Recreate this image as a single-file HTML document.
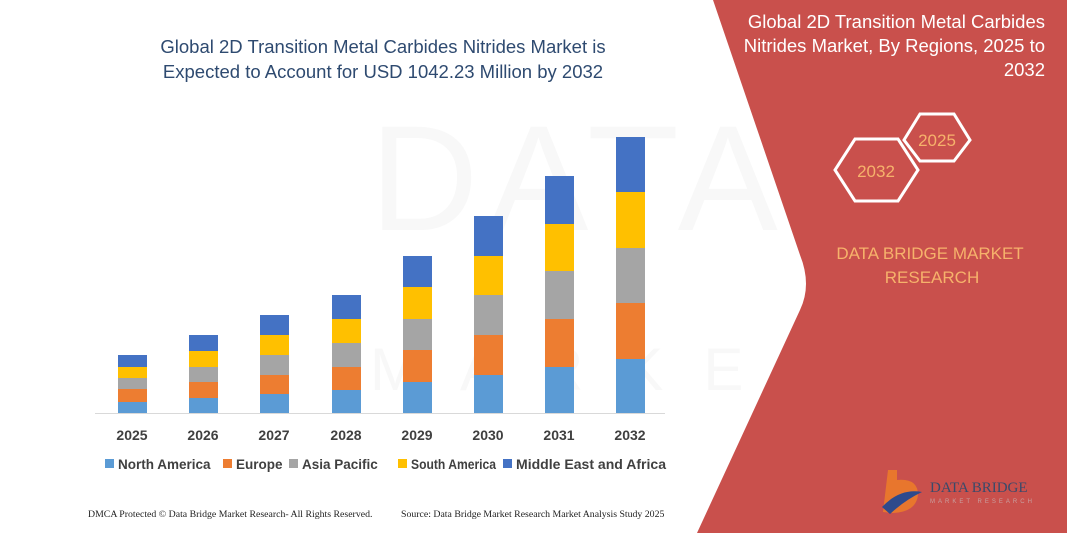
<!DOCTYPE html>
<html><head><meta charset="utf-8"><style>
html,body{margin:0;padding:0;background:#fff;}
svg{display:block;font-family:"Liberation Sans",sans-serif;}
</style></head><body>
<svg width="1067" height="533" viewBox="0 0 1067 533" xmlns="http://www.w3.org/2000/svg">
<rect width="1067" height="533" fill="#fff"/>
<text x="370" y="230" font-size="150" fill="#f8f8f8" letter-spacing="10">DATA BRIDGE</text>
<text x="370" y="390" font-size="60" fill="#f8f8f8" letter-spacing="40">MARKET RESEARCH</text>
<path d="M713,0 L1067,0 L1067,533 L697,533 L800,310 Q812,285 800,255 Z" fill="#c9504c"/>
<text x="383" y="53" font-size="18.5" fill="#2e4a70" text-anchor="middle">Global 2D Transition Metal Carbides Nitrides Market is</text>
<text x="383" y="78" font-size="18.5" fill="#2e4a70" text-anchor="middle">Expected to Account for USD 1042.23 Million by 2032</text>
<g fill="#fff" font-size="18.5" text-anchor="end">
<text x="1045" y="28">Global 2D Transition Metal Carbides</text>
<text x="1045" y="52">Nitrides Market, By Regions, 2025 to</text>
<text x="1045" y="76">2032</text>
</g>
<polygon points="920,114 954,114 970,140 954,161 920,161 904,140" fill="none" stroke="#fff" stroke-width="3"/>
<text x="937" y="146" font-size="17" fill="#f6b26b" text-anchor="middle">2025</text>
<polygon points="855,139 898,139 918,170 898,201 855,201 835,170" fill="none" stroke="#fff" stroke-width="3"/>
<text x="876" y="177" font-size="17" fill="#f6b26b" text-anchor="middle">2032</text>
<text x="930" y="259" font-size="17" fill="#f6b26b" text-anchor="middle">DATA BRIDGE MARKET</text>
<text x="932" y="283" font-size="17" fill="#f6b26b" text-anchor="middle">RESEARCH</text>
<path d="M888,470 L897,470 L897,480 Q918,478 918,495 Q916,512 893,513 L883,512 Z" fill="#e8762d"/>
<path d="M882,507 Q900,488 922,492 Q905,500 890,514 Z" fill="#2e4a8c"/>
<text x="930" y="492" font-size="15" fill="#3a4a6a" font-family="Liberation Serif">DATA BRIDGE</text>
<text x="930" y="503" font-size="6" fill="#c9a0a0" letter-spacing="3">MARKET RESEARCH</text>
<line x1="95" y1="413.5" x2="665" y2="413.5" stroke="#d9d9d9" stroke-width="1"/>
<g>
<rect x="118" y="355" width="29" height="12" fill="#4472c4"/><rect x="118" y="367" width="29" height="11" fill="#ffc000"/><rect x="118" y="378" width="29" height="11" fill="#a5a5a5"/><rect x="118" y="389" width="29" height="13" fill="#ed7d31"/><rect x="118" y="402" width="29" height="11" fill="#5b9bd5"/>
<rect x="189" y="335" width="29" height="16" fill="#4472c4"/><rect x="189" y="351" width="29" height="16" fill="#ffc000"/><rect x="189" y="367" width="29" height="15" fill="#a5a5a5"/><rect x="189" y="382" width="29" height="16" fill="#ed7d31"/><rect x="189" y="398" width="29" height="15" fill="#5b9bd5"/>
<rect x="260" y="315" width="29" height="20" fill="#4472c4"/><rect x="260" y="335" width="29" height="20" fill="#ffc000"/><rect x="260" y="355" width="29" height="20" fill="#a5a5a5"/><rect x="260" y="375" width="29" height="19" fill="#ed7d31"/><rect x="260" y="394" width="29" height="19" fill="#5b9bd5"/>
<rect x="332" y="295" width="29" height="24" fill="#4472c4"/><rect x="332" y="319" width="29" height="24" fill="#ffc000"/><rect x="332" y="343" width="29" height="24" fill="#a5a5a5"/><rect x="332" y="367" width="29" height="23" fill="#ed7d31"/><rect x="332" y="390" width="29" height="23" fill="#5b9bd5"/>
<rect x="403" y="256" width="29" height="31" fill="#4472c4"/><rect x="403" y="287" width="29" height="32" fill="#ffc000"/><rect x="403" y="319" width="29" height="31" fill="#a5a5a5"/><rect x="403" y="350" width="29" height="32" fill="#ed7d31"/><rect x="403" y="382" width="29" height="31" fill="#5b9bd5"/>
<rect x="474" y="216" width="29" height="40" fill="#4472c4"/><rect x="474" y="256" width="29" height="39" fill="#ffc000"/><rect x="474" y="295" width="29" height="40" fill="#a5a5a5"/><rect x="474" y="335" width="29" height="40" fill="#ed7d31"/><rect x="474" y="375" width="29" height="38" fill="#5b9bd5"/>
<rect x="545" y="176" width="29" height="48" fill="#4472c4"/><rect x="545" y="224" width="29" height="47" fill="#ffc000"/><rect x="545" y="271" width="29" height="48" fill="#a5a5a5"/><rect x="545" y="319" width="29" height="48" fill="#ed7d31"/><rect x="545" y="367" width="29" height="46" fill="#5b9bd5"/>
<rect x="616" y="137" width="29" height="55" fill="#4472c4"/><rect x="616" y="192" width="29" height="56" fill="#ffc000"/><rect x="616" y="248" width="29" height="55" fill="#a5a5a5"/><rect x="616" y="303" width="29" height="56" fill="#ed7d31"/><rect x="616" y="359" width="29" height="54" fill="#5b9bd5"/>
</g>
<g font-size="14" font-weight="bold" fill="#404040" text-anchor="middle">
<text x="132" y="440">2025</text><text x="203" y="440">2026</text><text x="274" y="440">2027</text><text x="346" y="440">2028</text>
<text x="417" y="440">2029</text><text x="488" y="440">2030</text><text x="559" y="440">2031</text><text x="630" y="440">2032</text>
</g>
<g font-size="13.5" font-weight="bold" fill="#404040">
<rect x="105" y="459" width="9" height="9" fill="#5b9bd5"/><text x="118" y="469">North America</text>
<rect x="223" y="459" width="9" height="9" fill="#ed7d31"/><text x="236" y="469">Europe</text>
<rect x="289" y="459" width="9" height="9" fill="#a5a5a5"/><text x="302" y="469">Asia Pacific</text>
<rect x="398" y="459" width="9" height="9" fill="#ffc000"/><text x="411" y="469" textLength="85" lengthAdjust="spacingAndGlyphs">South America</text>
<rect x="503" y="459" width="9" height="9" fill="#4472c4"/><text x="516" y="469" textLength="150" lengthAdjust="spacingAndGlyphs">Middle East and Africa</text>
</g>
<g font-size="9.8" fill="#222" font-family="Liberation Serif, serif">
<text x="88" y="517">DMCA Protected © Data Bridge Market Research-  All Rights Reserved.</text>
<text x="401" y="517">Source:  Data Bridge Market Research  Market Analysis Study 2025</text>
</g>
</svg>
</body></html>
